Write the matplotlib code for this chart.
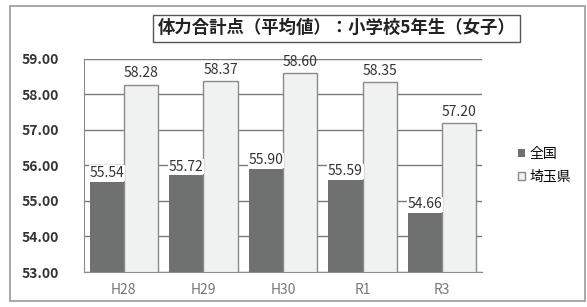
import numpy as np
import matplotlib.pyplot as plt
from matplotlib.patches import Rectangle

plt.rcParams['font.family'] = ['Noto Sans CJK JP', 'DejaVu Sans']

years = ['H28', 'H29', 'H30', 'R1', 'R3']
national = [55.54, 55.72, 55.90, 55.59, 54.66]
saitama = [58.28, 58.37, 58.60, 58.35, 57.20]
title = '体力合計点（平均値）：小学校5年生（女子）'

fig = plt.figure(figsize=(5.87, 3.07), dpi=100)
ax = fig.add_axes([0.143, 0.114, 0.678, 0.694])

x = np.arange(len(years))
w = 0.43
ax.bar(x - w / 2, national, w, color='#6f7070', label='全国', zorder=2)
ax.bar(x + w / 2, saitama, w, color='#f0f1f1', edgecolor='#8a8a8a',
       linewidth=1, label='埼玉県', zorder=2)

for xi, v in zip(x, national):
    ax.text(xi - w / 2, v + 0.05, f'{v:.2f}', ha='center', va='bottom',
            fontsize=10, color='#333333', zorder=3,
            bbox=dict(facecolor='white', edgecolor='none', pad=0.5))
for xi, v in zip(x, saitama):
    ax.text(xi + w / 2, v + 0.12, f'{v:.2f}', ha='center', va='bottom',
            fontsize=10, color='#333333', zorder=3)

ax.set_ylim(53, 59)
ax.set_xlim(-0.5, len(years) - 0.5)
ax.set_yticks(np.arange(53, 60, 1))
ax.set_yticklabels([f'{v:.2f}' for v in range(53, 60)], fontsize=10,
                   fontweight='bold', color='#333333')
ax.set_xticks(x)
ax.set_xticklabels(years, fontsize=10, color='#777777')
ax.tick_params(axis='x', length=0, pad=8)
ax.tick_params(axis='y', length=0, pad=18)
ax.grid(axis='y', color='#7a7a7a', linewidth=1, zorder=0)
for s in ['top', 'right']:
    ax.spines[s].set_visible(False)
ax.spines['left'].set_color('#8a8a8a')
ax.spines['bottom'].set_color('#8a8a8a')

ax.legend(loc='center left', bbox_to_anchor=(1.06, 0.5), frameon=False,
          fontsize=10, handlelength=0.5, handleheight=0.5, handletextpad=0.3,
          labelspacing=0.6)

fig.text(0.573, 0.908, title, ha='center', va='center', fontsize=12.5,
         fontweight='bold', color='#222222',
         bbox=dict(facecolor='white', edgecolor='#555555', linewidth=1,
                   boxstyle='square,pad=0.25'))

fig.patches.append(Rectangle((0.017, 0.02), 0.98, 0.96, transform=fig.transFigure,
                             fill=False, edgecolor='#999999', linewidth=1.2))

fig.savefig('out.png', dpi=100)
